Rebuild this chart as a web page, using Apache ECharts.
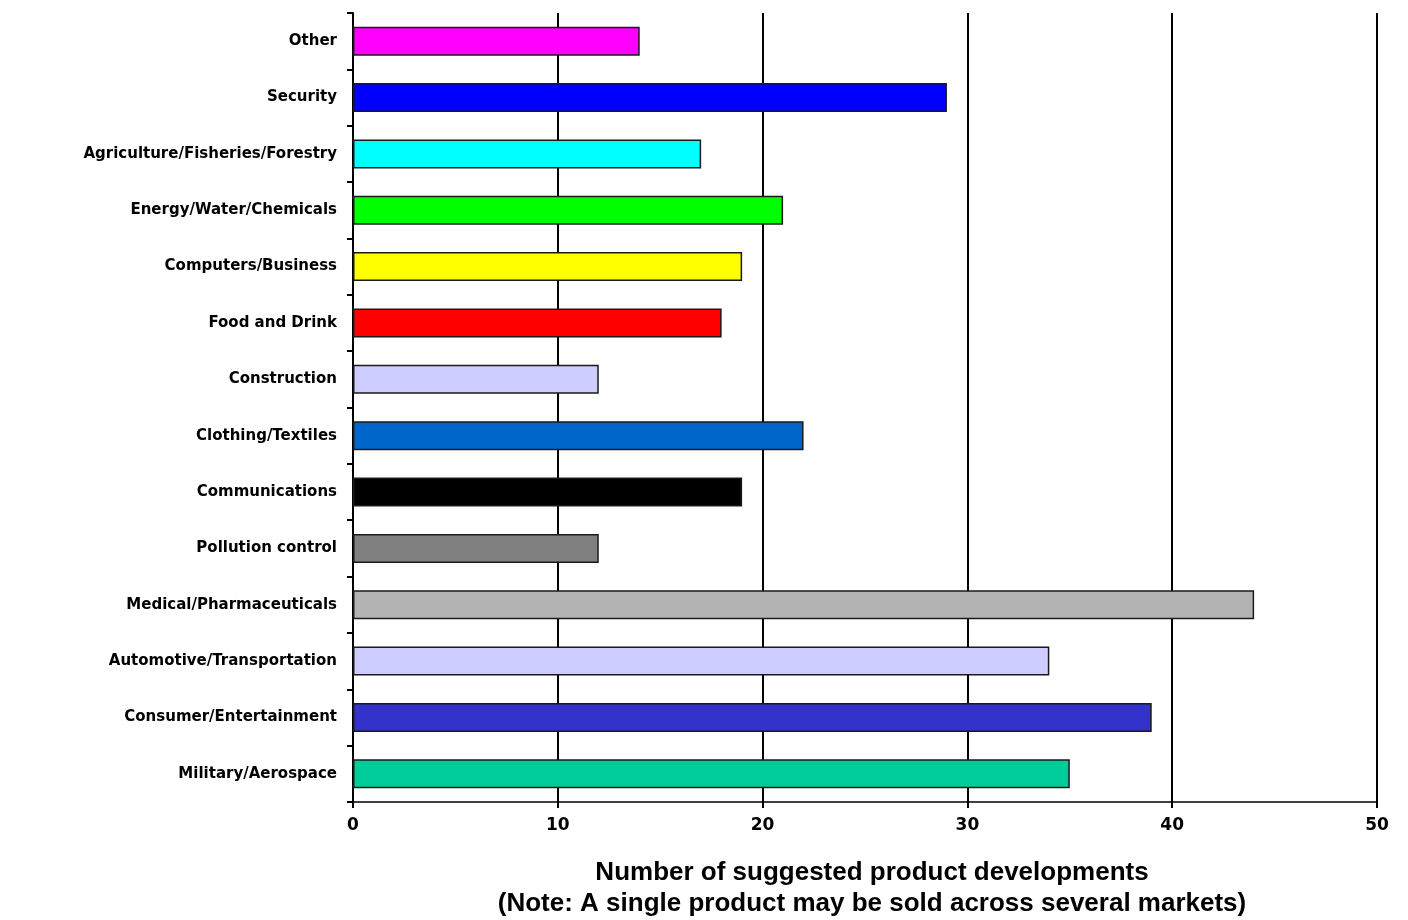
<!DOCTYPE html>
<html>
<head>
<meta charset="utf-8">
<script src="https://cdn.jsdelivr.net/npm/echarts@6/dist/echarts.min.js"></script>
<style>
  html, body { margin: 0; padding: 0; background: #fff; }
  #chart { width: 1408px; height: 920px; }
</style>
</head>
<body>
<div id="chart"></div>
<script>
// categories listed top to bottom
var markets = [
  'Other', 'Security', 'Agriculture/Fisheries/Forestry', 'Energy/Water/Chemicals',
  'Computers/Business', 'Food and Drink', 'Construction', 'Clothing/Textiles',
  'Communications', 'Pollution control', 'Medical/Pharmaceuticals',
  'Automotive/Transportation', 'Consumer/Entertainment', 'Military/Aerospace'
];
var developments = [14, 29, 17, 21, 19, 18, 12, 22, 19, 12, 44, 34, 39, 35];
var barColors = [
  '#ff00ff', '#0000ff', '#00ffff', '#00ff00', '#ffff00', '#ff0000', '#ccccff',
  '#0066cc', '#000000', '#808080', '#b3b3b3', '#ccccff', '#3333cc', '#00cc99'
];
var xTicks = [0, 10, 20, 30, 40, 50];

var chart = echarts.init(document.getElementById('chart'), null, { renderer: 'canvas' });

var option = {
  animation: false,
  backgroundColor: '#ffffff',
  grid: { left: 353, right: 31, top: 13, bottom: 118, outerBoundsMode: 'none', containLabel: false },
  xAxis: {
    type: 'value',
    min: xTicks[0],
    max: xTicks[xTicks.length - 1],
    interval: 10,
    name: 'Number of suggested product developments\n(Note: A single product may be sold across several markets)',
    nameLocation: 'middle',
    nameGap: 55,
    nameTextStyle: {
      fontFamily: 'Liberation Sans, Arial, sans-serif',
      fontWeight: 'bold',
      fontSize: 26,
      lineHeight: 31,
      color: '#000',
      padding: [0, 0, 0, 14]
    },
    axisLine: { show: true, lineStyle: { color: '#000', width: 1.5 } },
    axisTick: { show: true, length: 6, lineStyle: { color: '#000', width: 2 } },
    axisLabel: {
      margin: 15,
      fontFamily: 'DejaVu Sans, sans-serif',
      fontWeight: 'bold',
      fontSize: 17,
      color: '#000'
    },
    splitLine: { show: true, lineStyle: { color: '#000', width: 2 } }
  },
  yAxis: {
    type: 'category',
    inverse: true,
    data: markets,
    axisLine: { show: true, lineStyle: { color: '#000', width: 2 } },
    axisTick: { show: true, length: 6, lineStyle: { color: '#000', width: 2 } },
    axisLabel: {
      margin: 16,
      fontFamily: 'DejaVu Sans, sans-serif',
      fontWeight: 'bold',
      fontSize: 15,
      color: '#000'
    }
  },
  series: [{
    type: 'bar',
    barWidth: 29,
    data: developments.map(function (v, i) {
      return { value: v, itemStyle: { color: barColors[i] } };
    }),
    itemStyle: { borderColor: '#1a1a1a', borderWidth: 1.5 }
  }]
};

chart.setOption(option);
window.addEventListener('resize', chart.resize);
</script>
</body>
</html>
